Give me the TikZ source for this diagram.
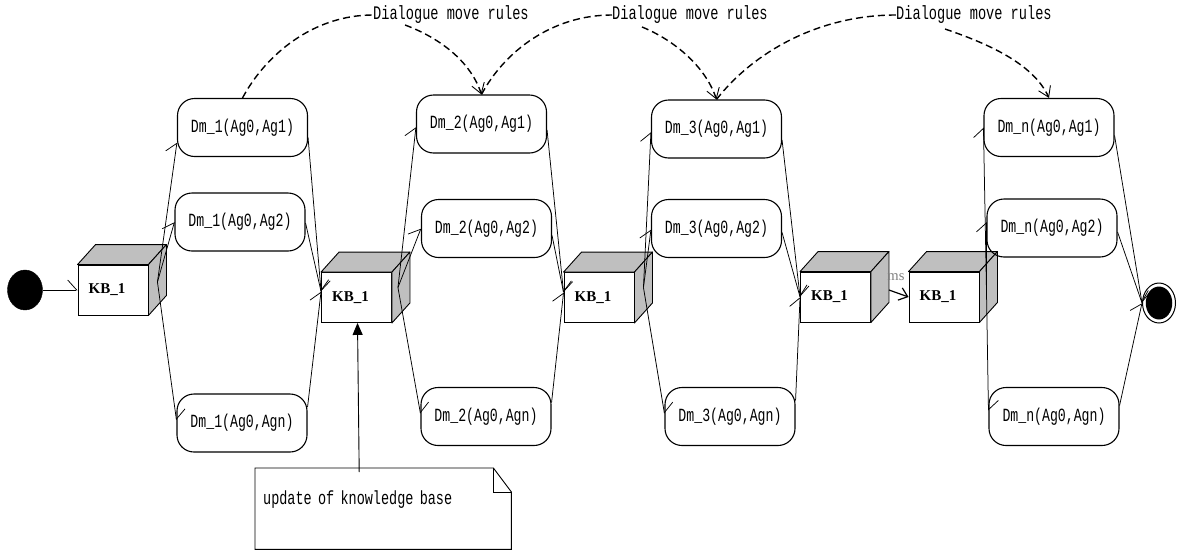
\documentclass[tikz,border=0pt]{standalone}
\usepackage{fontspec}
\setmainfont{Liberation Serif}
\newfontfamily\monofam{Liberation Mono}[FakeStretch=0.71]
\usetikzlibrary{arrows.meta,calc,shapes.geometric}
\tikzset{
  dm/.style={draw, line width=1.1pt, rounded corners=17pt, minimum width=130pt, minimum height=58pt, inner sep=0pt, font=\monofam\fontsize{18.6}{20}\selectfont},
  kbfront/.style={draw, fill=white, line width=0.9pt, minimum width=70pt, minimum height=50pt, inner sep=0pt, font=\bfseries\fontsize{15}{17}\selectfont},
  cubeface/.style={draw, fill=black!25, line width=0.9pt, line join=round},
  flow/.style={line width=0.75pt, -{Straight Barb[harpoon, length=9pt, width=20pt]}},
  fullflow/.style={line width=1.2pt, -{Straight Barb[length=8pt, width=13pt]}},
  rulearc/.style={line width=1.4pt, dash pattern=on 7pt off 4pt},
  rulehead/.style={-{Straight Barb[length=10pt, width=13pt, line width=0.9pt]}},
  lab/.style={font=\monofam\fontsize{19.2}{20}\selectfont, inner sep=0pt},
}
\newcommand\kbcube[3]{%
  \node[kbfront] (#1) at (#2,#3) {KB\_1\hspace*{12pt}};
  \filldraw[cubeface] (#1.north west) -- ++(18,-20) -- ($(#1.north east)+(18,-20)$) -- (#1.north east) -- cycle;
  \filldraw[cubeface] (#1.north east) -- ++(18,-20) -- ($(#1.south east)+(18,-20)$) -- (#1.south east) -- cycle;
}
\begin{document}
\begin{tikzpicture}[x=1pt, y=-1pt]
\useasboundingbox (0,0) rectangle (1177,552);
% start / end
\node[ellipse, draw, fill=black, minimum width=35pt, minimum height=40pt, inner sep=0pt] (startst) at (25,290) {};
\node[ellipse, draw, line width=1pt, fill=white, minimum width=33pt, minimum height=40pt, inner sep=0pt] (endst) at (1159,303) {};
\node[ellipse, fill=black, minimum width=26.5pt, minimum height=33pt, inner sep=0pt] (endin) at (endst) {};
% cubes
\kbcube{kb1}{113}{290}
\kbcube{kb2}{356.5}{297.5}
\kbcube{kb3}{599}{297.5}
\kbcube{kb4}{835.5}{297}
\kbcube{kb5}{944}{297}
% dialogue move states
\node[dm] (d11) at (242.5,127.5) {Dm\_1(Ag0,Ag1)};
\node[dm] (d12) at (240,222) {Dm\_1(Ag0,Ag2)};
\node[dm] (d13) at (242,423) {Dm\_1(Ag0,Agn)};
\node[dm] (d21) at (481.5,124) {Dm\_2(Ag0,Ag1)};
\node[dm] (d22) at (486.5,228.5) {Dm\_2(Ag0,Ag2)};
\node[dm] (d23) at (486,416.5) {Dm\_2(Ag0,Agn)};
\node[dm] (d31) at (716.5,129) {Dm\_3(Ag0,Ag1)};
\node[dm] (d32) at (716.5,228.5) {Dm\_3(Ag0,Ag2)};
\node[dm] (d33) at (730,416.5) {Dm\_3(Ag0,Agn)};
\node[dm] (d41) at (1049,127.5) {Dm\_n(Ag0,Ag1)};
\node[dm] (d42) at (1052,228) {Dm\_n(Ag0,Ag2)};
\node[dm] (d43) at (1054,416.5) {Dm\_n(Ag0,Agn)};
% labels
\node[lab, anchor=west] (lab1) at (373,15) {Dialogue move rules};
\node[lab, anchor=west] (lab2) at (612,15) {Dialogue move rules};
\node[lab, anchor=west] (lab3) at (896,15) {Dialogue move rules};
\node[font=\fontsize{14.6}{16}\selectfont, text=black!50, inner sep=0pt] (ms) at (896,277) {ms};
% note
\node[anchor=north west, text width=240pt, inner xsep=8pt, inner ysep=0pt, text height=36pt, text depth=45pt, align=left, font=\monofam\fontsize{19}{20}\selectfont] (note) at (255,468) {update of knowledge base};
\draw[line width=0.9pt] (note.north west) -- ($(note.north east)+(-18,0)$) -- ($(note.north east)+(0,24)$) -- (note.south east) -- (note.south west) -- cycle;
\draw[line width=0.9pt] ($(note.north east)+(-18,0)$) -- ++(0,24) -- ++(18,0);
\draw[line width=0.9pt, -{Triangle[length=12pt, width=10pt]}] ($(note.north)+(-24,4)$) -- ($(kb2.south)+(1,0)$);
% flows
\draw[flow] (startst.east) -- (kb1.west);
\coordinate (o1) at ($(kb1.east)+(9,-8)$);
\draw[flow] (o1) -- ($(d11.west)+(0,15)$);
\draw[flow] (o1) -- ($(d12.west)+(0,0)$);
\draw[flow] (o1) -- ($(d13.west)+(0,-3)$);
\coordinate (i2) at ($(kb2.west)+(0,-6)$);
\draw[flow] ($(d11.east)+(0,10)$) -- (i2);
\draw[flow] ($(d12.east)+(0,1)$) -- (i2);
\draw[flow] ($(d13.east)+(0,-16)$) -- (i2);
\coordinate (o2) at ($(kb2.east)+(6,-10)$);
\draw[flow] (o2) -- ($(d21.west)+(0,3)$);
\draw[flow] (o2) -- ($(d22.west)+(0,0)$);
\draw[flow] (o2) -- ($(d23.west)+(0,-3)$);
\coordinate (i3) at ($(kb3.west)+(0,-5)$);
\draw[flow] ($(d21.east)+(0,6)$) -- (i3);
\draw[flow] ($(d22.east)+(0,7)$) -- (i3);
\draw[flow] ($(d23.east)+(0,-14)$) -- (i3);
\coordinate (o3) at ($(kb3.east)+(9,-10)$);
\draw[flow] (o3) -- ($(d31.west)+(0,3)$);
\draw[flow] (o3) -- ($(d32.west)+(0,1)$);
\draw[flow] (o3) -- ($(d33.west)+(0,-3)$);
\coordinate (i4) at ($(kb4.west)+(0,0)$);
\draw[flow] ($(d31.east)+(0,11)$) -- (i4);
\draw[flow] ($(d32.east)+(0,4)$) -- (i4);
\draw[flow] ($(d33.east)+(0,-16)$) -- (i4);
\draw[fullflow] ($(kb4.east)+(18,-7)$) -- (kb5.west);
\coordinate (o5) at ($(kb5.east)+(7,-7)$);
\draw[flow] (o5) -- ($(d41.west)+(0,0)$);
\draw[flow] (o5) -- ($(d42.west)+(0,-6)$);
\draw[flow] (o5) -- ($(d43.west)+(0,-6)$);
\draw[flow] ($(d41.east)+(0,8)$) -- (endst.west);
\draw[flow] ($(d42.east)+(0,4)$) -- (endst.west);
\draw[flow] ($(d43.east)+(0,-11)$) -- (endst.west);
% dialogue move rule arcs
\draw[rulearc] (d11.north) .. controls ($(d11.north)+(23,-43)$) and ($(lab1.west)+(-60,0)$) .. (lab1.west);
\draw[rulearc, rulehead] ($(lab1.west)+(32,10)$) .. controls ($(lab1.west)+(67,23)$) and ($(d21.north)+(-11,-33)$) .. (d21.north);
\draw[rulearc] (d21.north) .. controls ($(d21.north)+(23,-43)$) and ($(lab2.west)+(-60,0)$) .. (lab2.west);
\draw[rulearc, rulehead] ($(lab2.west)+(30,12)$) .. controls ($(lab2.west)+(62,25)$) and ($(d31.north)+(-11,-33)$) .. (d31.north);
\draw[rulearc] (d31.north) .. controls ($(d31.north)+(35,-45)$) and ($(lab3.west)+(-80,0)$) .. (lab3.west);
\draw[rulearc, rulehead] ($(lab3.west)+(49,14)$) .. controls ($(lab3.west)+(90,28)$) and ($(d41.north)+(-16,-35)$) .. (d41.north);
\end{tikzpicture}
\end{document}
